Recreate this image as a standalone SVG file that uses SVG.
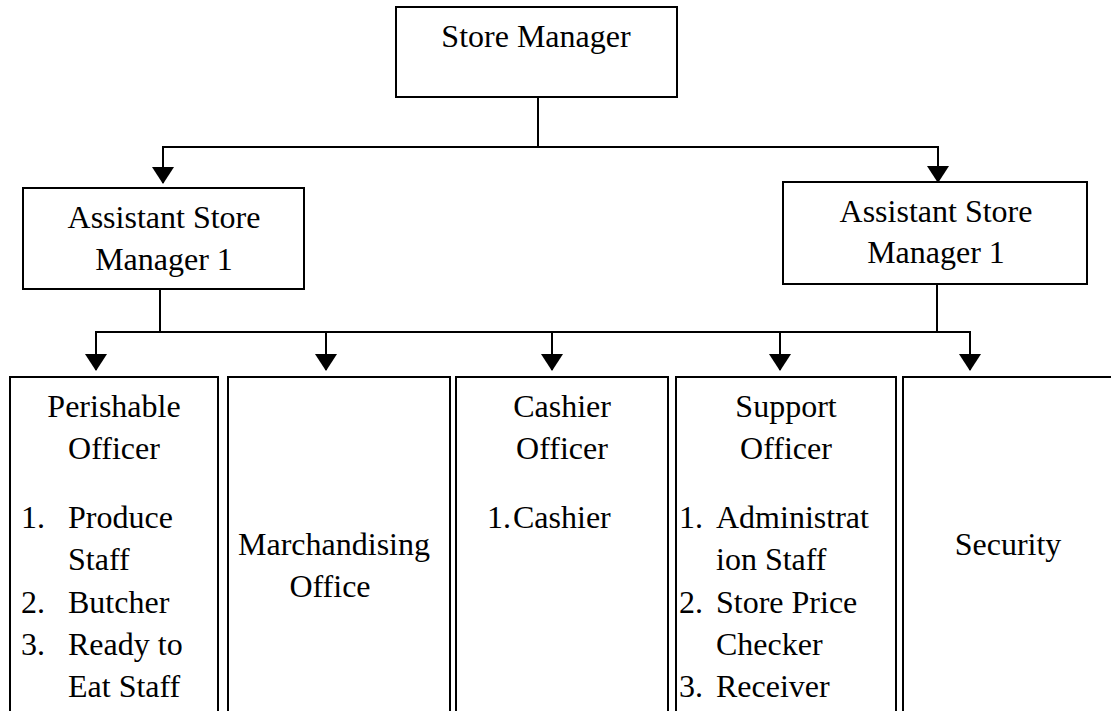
<svg xmlns="http://www.w3.org/2000/svg" width="1111" height="711" viewBox="0 0 1111 711">
<style>
.box{fill:#fff;stroke:#000;stroke-width:2}
.ln{fill:none;stroke:#000;stroke-width:2}
text{font-family:"Liberation Serif","Times New Roman",serif;font-size:32px;fill:#000}
.c{text-anchor:middle}
</style>
<defs>
<marker id="ah" markerUnits="userSpaceOnUse" markerWidth="17" markerHeight="22" viewBox="0 0 17 22" refX="16" refY="11" orient="auto">
<path d="M0 0 L17 11 L0 22 Z" fill="#000"/>
</marker>
</defs>
<g id="connectors">
<path class="ln" d="M538 97 V147"/>
<path class="ln" d="M162 147 H939"/>
<path class="ln" d="M163 147 V183" marker-end="url(#ah)"/>
<path class="ln" d="M938 147 V182" marker-end="url(#ah)"/>
<path class="ln" d="M160 289 V332"/>
<path class="ln" d="M937 284 V332"/>
<path class="ln" d="M95 332 H971"/>
<path class="ln" d="M96 332 V370" marker-end="url(#ah)"/>
<path class="ln" d="M326 332 V370" marker-end="url(#ah)"/>
<path class="ln" d="M552 332 V370" marker-end="url(#ah)"/>
<path class="ln" d="M780 332 V370" marker-end="url(#ah)"/>
<path class="ln" d="M970 332 V370" marker-end="url(#ah)"/>
</g>
<g id="store-manager">
<rect class="box" x="396" y="7" width="281" height="90"/>
<text class="c" x="536" y="47">Store Manager</text>
</g>
<g id="asm-left">
<rect class="box" x="23" y="188" width="281" height="101"/>
<text class="c" x="164" y="228">Assistant Store</text>
<text class="c" x="164" y="270">Manager 1</text>
</g>
<g id="asm-right">
<rect class="box" x="783" y="182" width="304" height="102"/>
<text class="c" x="936" y="222">Assistant Store</text>
<text class="c" x="936" y="263">Manager 1</text>
</g>
<g id="perishable">
<rect class="box" x="10" y="377" width="208" height="345"/>
<text class="c" x="114" y="417">Perishable</text>
<text class="c" x="114" y="459">Officer</text>
<text x="21" y="528">1.</text><text x="68" y="528">Produce</text>
<text x="68" y="570">Staff</text>
<text x="21" y="613">2.</text><text x="68" y="613">Butcher</text>
<text x="21" y="655">3.</text><text x="68" y="655">Ready to</text>
<text x="68" y="697">Eat Staff</text>
</g>
<g id="marchandising">
<rect class="box" x="228" y="377" width="222" height="345"/>
<text class="c" x="334" y="555">Marchandising</text>
<text class="c" x="330" y="597">Office</text>
</g>
<g id="cashier">
<rect class="box" x="456" y="377" width="212" height="345"/>
<text class="c" x="562" y="417">Cashier</text>
<text class="c" x="562" y="459">Officer</text>
<text x="487" y="528">1.</text><text x="513" y="528">Cashier</text>
</g>
<g id="support">
<rect class="box" x="676" y="377" width="220" height="345"/>
<text class="c" x="786" y="417">Support</text>
<text class="c" x="786" y="459">Officer</text>
<text x="679" y="528">1.</text><text x="716" y="528">Administrat</text>
<text x="716" y="570">ion Staff</text>
<text x="679" y="613">2.</text><text x="716" y="613">Store Price</text>
<text x="716" y="655">Checker</text>
<text x="679" y="697">3.</text><text x="716" y="697">Receiver</text>
</g>
<g id="security">
<rect class="box" x="903" y="377" width="230" height="345"/>
<text class="c" x="1008" y="555">Security</text>
</g>
</svg>
